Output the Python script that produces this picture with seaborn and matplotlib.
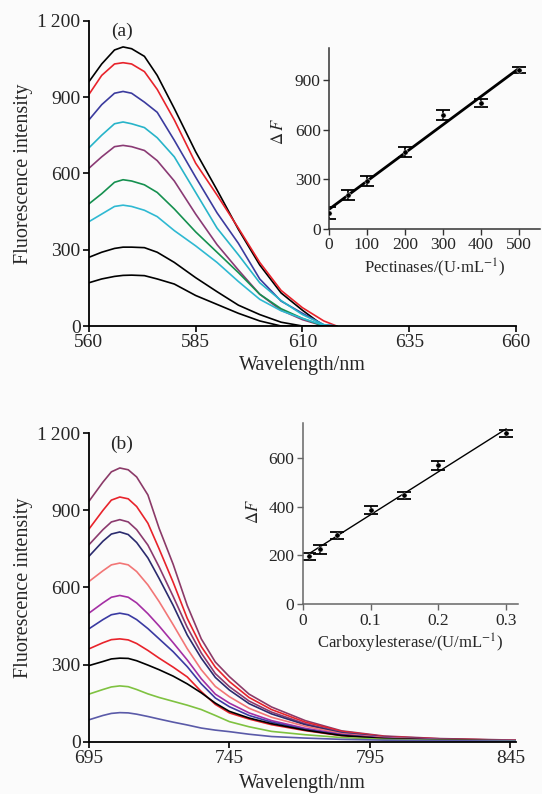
import numpy as np
import pandas as pd
import seaborn as sns
import matplotlib.pyplot as plt

# --- spectra (a): pectinases ---
wl_a = [560, 563, 566, 568, 570, 573, 576, 580, 585, 590, 595, 600, 605, 610, 615, 618]
spec_a = {
    'a1': [960, 1030, 1085, 1097, 1090, 1060, 985, 855, 685, 535, 380, 240, 130, 62, 0, 0],
    'a2': [910, 985, 1030, 1035, 1030, 1000, 930, 810, 640, 515, 385, 250, 140, 72, 20, 0],
    'a3': [810, 870, 915, 922, 915, 880, 840, 730, 585, 445, 325, 185, 98, 50, 5, 0],
    'a4': [700, 750, 795, 802, 795, 780, 740, 665, 525, 385, 280, 170, 100, 45, 5, 0],
    'a5': [620, 665, 705, 710, 705, 690, 650, 570, 440, 320, 220, 125, 62, 25, 0, 0],
    'a6': [480, 520, 565, 575, 570, 555, 525, 460, 370, 290, 210, 125, 68, 30, 0, 0],
    'a7': [410, 440, 470, 475, 470, 455, 430, 375, 315, 250, 175, 105, 60, 30, 3, 0],
    'a8': [270, 290, 305, 310, 310, 308, 290, 250, 190, 135, 82, 45, 15, 0, 0, 0],
    'a9': [170, 185, 195, 199, 200, 198, 185, 165, 120, 85, 50, 20, 0, 0, 0, 0],
}
colors_a = ['#000000', '#e8232b', '#3b3b9e', '#27b4c9', '#8a3a74',
            '#15904f', '#2fb9d2', '#000000', '#000000']

# --- spectra (b): carboxylesterase ---
wl_b = [695, 700, 703, 706, 709, 712, 716, 720, 725, 730, 735, 740, 745, 752,
        760, 772, 785, 800, 820, 847]
spec_b = {
    'b1': [935, 1010, 1050, 1065, 1058, 1030, 960, 830, 690, 530, 400, 310, 253, 185, 135, 82, 42, 22, 12, 6],
    'b2': [827, 900, 940, 952, 945, 915, 850, 750, 620, 480, 370, 290, 234, 172, 125, 76, 40, 20, 11, 5],
    'b3': [766, 825, 855, 864, 855, 825, 765, 680, 565, 445, 345, 265, 214, 158, 115, 70, 36, 18, 10, 5],
    'b4': [721, 780, 808, 816, 806, 775, 715, 635, 530, 415, 325, 250, 201, 148, 108, 66, 34, 17, 9, 4],
    'b5': [623, 665, 688, 695, 688, 662, 610, 545, 455, 362, 280, 215, 175, 130, 95, 60, 31, 16, 8, 4],
    'b6': [500, 540, 562, 569, 562, 540, 498, 450, 385, 318, 245, 185, 150, 112, 82, 52, 28, 14, 7, 3],
    'b7': [439, 475, 494, 500, 494, 475, 440, 400, 350, 292, 225, 170, 136, 102, 76, 48, 26, 13, 7, 3],
    'b8': [361, 385, 397, 400, 396, 382, 355, 325, 290, 252, 195, 145, 112, 88, 66, 43, 23, 12, 6, 3],
    'b9': [296, 312, 322, 325, 324, 315, 298, 280, 255, 225, 190, 150, 118, 92, 70, 45, 24, 12, 6, 3],
    'b10': [185, 203, 213, 217, 214, 203, 186, 172, 157, 142, 125, 102, 78, 58, 40, 27, 16, 9, 5, 3],
    'b11': [85, 102, 110, 113, 112, 107, 98, 88, 76, 65, 53, 45, 39, 29, 20, 14, 9, 6, 4, 2],
}
colors_b = ['#8b3a68', '#e8232b', '#8b3a6e', '#2b2b6e', '#f27676', '#a42fa4',
            '#3a3aa2', '#e8232b', '#000000', '#7fc241', '#5a5aa8']

# --- insets ---
pect_x = [0, 50, 100, 200, 300, 400, 500]
pect_dF = [95, 206, 290, 468, 690, 760, 962]
pect_err = [35, 30, 30, 30, 30, 25, 18]

carb_x = [0.01, 0.025, 0.05, 0.1, 0.15, 0.2, 0.3]
carb_dF = [197, 225, 282, 386, 446, 568, 699]
carb_err = [15, 18, 15, 18, 15, 20, 15]

sns.set_theme(style='ticks')
plt.rcParams['font.family'] = ['Liberation Serif', 'DejaVu Serif']
plt.rcParams['mathtext.fontset'] = 'stix'
plt.rcParams['xtick.direction'] = 'out'
plt.rcParams['ytick.direction'] = 'out'

bg = '#fbfbfb'
fig = plt.figure(figsize=(5.42, 7.94), dpi=100, facecolor=bg)


def long_form(wl, spec):
    rows = []
    for name, vals in spec.items():
        for w, v in zip(wl, vals):
            rows.append((name, w, v))
    return pd.DataFrame(rows, columns=['curve', 'wl', 'val'])


def style_main(ax, xticks, xlim, panel):
    ax.set_facecolor(bg)
    ax.set_xlim(*xlim)
    ax.set_ylim(0, 1200)
    ax.set_xticks(xticks)
    ax.set_yticks([0, 300, 600, 900, 1200])
    ax.set_yticklabels(['0', '300', '600', '900', '1\u2009200'])
    ax.tick_params(labelsize=14, length=4, width=1.2, color='black', pad=2)
    for s in ['top', 'right']:
        ax.spines[s].set_visible(False)
    for s in ['left', 'bottom']:
        ax.spines[s].set_linewidth(1.3)
        ax.spines[s].set_color('black')
    ax.set_ylabel('Fluorescence intensity', fontsize=14.5)
    ax.yaxis.set_label_coords(-0.13, 0.5)
    ax.text(0.077, 0.965, panel, transform=ax.transAxes, fontsize=14,
            ha='center', va='center')


# panel (a)
ax_a = fig.add_axes([0.164, 0.5894, 0.788, 0.3845])
df_a = long_form(wl_a, spec_a)
sns.lineplot(data=df_a, x='wl', y='val', hue='curve', palette=colors_a,
             legend=False, ax=ax_a, linewidth=1.2, sort=False)
style_main(ax_a, [560, 585, 610, 635, 660], (560, 660), '(a)')
ax_a.set_xlabel('Wavelength/nm', fontsize=14.5)
ax_a.xaxis.set_label_coords(0.5, -0.098)

# panel (b)
ax_b = fig.add_axes([0.164, 0.0659, 0.788, 0.3884])
df_b = long_form(wl_b, spec_b)
sns.lineplot(data=df_b, x='wl', y='val', hue='curve', palette=colors_b,
             legend=False, ax=ax_b, linewidth=1.2, sort=False)
style_main(ax_b, [695, 745, 795, 845], (695, 847), '(b)')
ax_b.set_xlabel('Wavelength/nm', fontsize=14.5)
ax_b.xaxis.set_label_coords(0.5, -0.104)


def style_inset(ax, spine_col):
    ax.set_facecolor('none')
    for s in ['top', 'right']:
        ax.spines[s].set_visible(False)
    for s in ['left', 'bottom']:
        ax.spines[s].set_linewidth(1.1)
        ax.spines[s].set_color(spine_col)
    ax.tick_params(labelsize=12.5, length=4, width=1.0, color=spine_col, pad=2)


# inset (a)
in_a = fig.add_axes([0.607, 0.7116, 0.389, 0.228])
in_a.errorbar(pect_x, pect_dF, yerr=pect_err, fmt='none', ecolor='black',
              elinewidth=1.3, capsize=5, capthick=1.3)
sns.scatterplot(x=pect_x, y=pect_dF, color='black', s=14, ax=in_a, zorder=3)
sns.regplot(x=pect_x, y=pect_dF, scatter=False, ci=None, ax=in_a,
            line_kws={'color': 'black', 'linewidth': 2})
in_a.set_xlim(0, 556)
in_a.set_ylim(0, 1095)
in_a.set_xticks([0, 100, 200, 300, 400, 500])
in_a.set_yticks([0, 300, 600, 900])
style_inset(in_a, '#333333')
in_a.set_xlabel(r'Pectinases/(U$\cdot$mL$^{-1}$)', fontsize=12, labelpad=2)
in_a.set_ylabel(r'$\Delta\,F$', fontsize=12)
in_a.yaxis.set_label_coords(-0.2, 0.54)

# inset (b)
in_b = fig.add_axes([0.5585, 0.2389, 0.3967, 0.2287])
in_b.errorbar(carb_x, carb_dF, yerr=carb_err, fmt='none', ecolor='black',
              elinewidth=1.3, capsize=5, capthick=1.3)
sns.scatterplot(x=carb_x, y=carb_dF, color='black', s=14, ax=in_b, zorder=3)
sns.regplot(x=carb_x, y=carb_dF, scatter=False, ci=None, ax=in_b,
            line_kws={'color': 'black', 'linewidth': 1})
in_b.set_xlim(0, 0.317)
in_b.set_ylim(0, 743)
in_b.set_xticks([0, 0.1, 0.2, 0.3])
in_b.set_xticklabels(['0', '0.1', '0.2', '0.3'])
in_b.set_yticks([0, 200, 400, 600])
style_inset(in_b, '#666666')
in_b.set_xlabel(r'Carboxylesterase/(U/mL$^{-1}$)', fontsize=12, labelpad=2)
in_b.set_ylabel(r'$\Delta F$', fontsize=12)
in_b.yaxis.set_label_coords(-0.19, 0.51)

fig.savefig('out.png', dpi=100, facecolor=bg)
